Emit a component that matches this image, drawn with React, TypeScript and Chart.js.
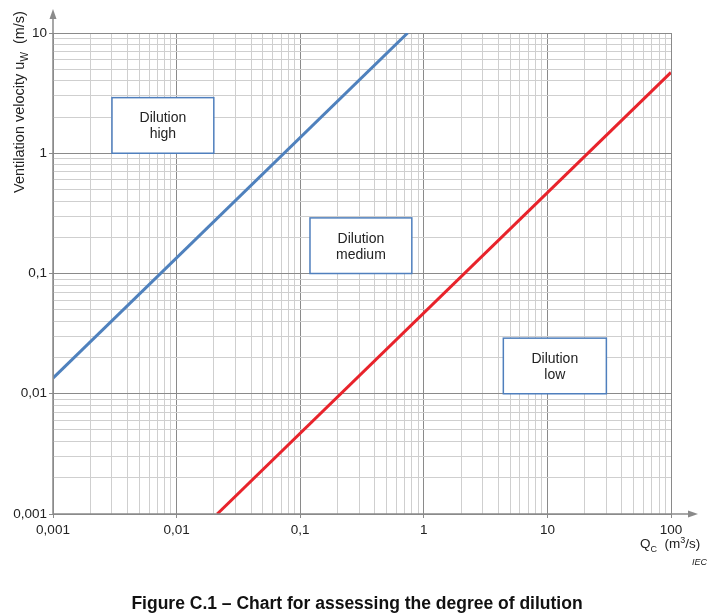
import React, { useEffect, useRef } from 'react';
import { Chart, registerables } from 'chart.js';
Chart.register(...registerables);

// Axis ticks (decades) and their labels
const xTickValues = [0.001, 0.01, 0.1, 1, 10, 100];
const xTickLabels = ['0,001', '0,01', '0,1', '1', '10', '100'];
const yTickValues = [0.001, 0.01, 0.1, 1, 10];
const yTickLabels = ['0,001', '0,01', '0,1', '1', '10'];

// Boundary lines (Qc in m3/s, uw in m/s)
const highBoundaryQ = [0.001, 0.74];
const highBoundaryU = [0.0135, 10];
const lowBoundaryQ = [0.0213, 100];
const lowBoundaryU = [0.001, 4.7];

// Zone labels and their boxes in data coordinates
const zoneLine1 = ['Dilution', 'Dilution', 'Dilution'];
const zoneLine2 = ['high', 'medium', 'low'];
const zoneQMin = [0.003, 0.12, 4.4];
const zoneQMax = [0.02, 0.8, 30];
const zoneUMin = [1, 0.1, 0.01];
const zoneUMax = [2.9, 0.29, 0.029];

const FONT = "'Liberation Sans', Arial, Helvetica, sans-serif";

const isMajor = (v: number) => Math.abs(Math.log10(v) - Math.round(Math.log10(v))) < 1e-6;

function logTicks(min: number, max: number) {
  const out: { value: number }[] = [];
  const lo = Math.round(Math.log10(min));
  const hi = Math.round(Math.log10(max));
  for (let e = lo; e <= hi; e++) {
    for (let m = 1; m <= 9; m++) {
      const v = parseFloat((m * Math.pow(10, e)).toPrecision(6));
      if (v > max * 1.0000001) break;
      out.push({ value: v });
    }
  }
  return out;
}

function labelFor(values: number[], labels: string[], v: number) {
  for (let i = 0; i < values.length; i++) {
    if (Math.abs(values[i] - v) / values[i] < 1e-6) return labels[i];
  }
  return '';
}

const overlayPlugin = {
  id: 'overlay',
  afterDatasetsDraw(chart: any) {
    const { ctx, scales } = chart;
    const xs = scales.x;
    const ys = scales.y;
    ctx.save();
    for (let i = 0; i < zoneLine1.length; i++) {
      const x1 = xs.getPixelForValue(zoneQMin[i]);
      const x2 = xs.getPixelForValue(zoneQMax[i]);
      const y1 = ys.getPixelForValue(zoneUMax[i]);
      const y2 = ys.getPixelForValue(zoneUMin[i]);
      ctx.fillStyle = '#ffffff';
      ctx.fillRect(x1, y1, x2 - x1, y2 - y1);
      ctx.strokeStyle = '#4f7fbd';
      ctx.lineWidth = 1.5;
      ctx.strokeRect(x1, y1, x2 - x1, y2 - y1);
      const cx = (x1 + x2) / 2;
      const cy = (y1 + y2) / 2;
      ctx.fillStyle = '#222222';
      ctx.font = `14px ${FONT}`;
      ctx.textAlign = 'center';
      ctx.textBaseline = 'middle';
      ctx.fillText(zoneLine1[i], cx, cy - 7);
      ctx.fillText(zoneLine2[i], cx, cy + 9);
    }
    ctx.restore();
  },
  afterDraw(chart: any) {
    const { ctx, chartArea } = chart;
    const { left, right, top, bottom } = chartArea;
    ctx.save();
    // axis arrows
    ctx.strokeStyle = '#8a8a8a';
    ctx.fillStyle = '#8a8a8a';
    ctx.lineWidth = 1.5;
    ctx.beginPath();
    ctx.moveTo(left, bottom);
    ctx.lineTo(left, top - 18);
    ctx.moveTo(left, bottom);
    ctx.lineTo(right + 20, bottom);
    ctx.stroke();
    ctx.beginPath();
    ctx.moveTo(left, top - 24);
    ctx.lineTo(left - 3.5, top - 14);
    ctx.lineTo(left + 3.5, top - 14);
    ctx.closePath();
    ctx.fill();
    ctx.beginPath();
    ctx.moveTo(right + 27, bottom);
    ctx.lineTo(right + 17, bottom - 3.5);
    ctx.lineTo(right + 17, bottom + 3.5);
    ctx.closePath();
    ctx.fill();

    // y title
    ctx.fillStyle = '#222222';
    ctx.textBaseline = 'alphabetic';
    ctx.textAlign = 'left';
    ctx.translate(23.5, 102);
    ctx.rotate(-Math.PI / 2);
    const p1 = 'Ventilation velocity u';
    const p2 = 'W';
    const p3 = '  (m/s)';
    ctx.font = `14.5px ${FONT}`;
    const w1 = ctx.measureText(p1).width;
    const w3 = ctx.measureText(p3).width;
    ctx.font = `10px ${FONT}`;
    const w2 = ctx.measureText(p2).width;
    let sx = -(w1 + w2 + w3) / 2;
    ctx.font = `14.5px ${FONT}`;
    ctx.fillText(p1, sx, 0);
    sx += w1;
    ctx.font = `10px ${FONT}`;
    ctx.fillText(p2, sx, 4);
    sx += w2;
    ctx.font = `14.5px ${FONT}`;
    ctx.fillText(p3, sx, 0);
    ctx.restore();

    ctx.save();
    // x title
    ctx.fillStyle = '#222222';
    ctx.textBaseline = 'alphabetic';
    ctx.textAlign = 'left';
    let xx = 640;
    const by = 548;
    ctx.font = `13.5px ${FONT}`;
    ctx.fillText('Q', xx, by);
    xx += ctx.measureText('Q').width;
    ctx.font = `9px ${FONT}`;
    ctx.fillText('C', xx, by + 3.5);
    xx += ctx.measureText('C').width;
    ctx.font = `13.5px ${FONT}`;
    ctx.fillText('  (m', xx, by);
    xx += ctx.measureText('  (m').width;
    ctx.font = `9px ${FONT}`;
    ctx.fillText('3', xx, by - 5);
    xx += ctx.measureText('3').width;
    ctx.font = `13.5px ${FONT}`;
    ctx.fillText('/s)', xx, by);

    // IEC mark
    ctx.font = `italic 9px ${FONT}`;
    ctx.textAlign = 'right';
    ctx.fillText('IEC', 707, 565);

    // caption
    ctx.font = `bold 17.5px ${FONT}`;
    ctx.textAlign = 'center';
    ctx.fillStyle = '#111111';
    ctx.fillText('Figure C.1 \u2013 Chart for assessing the degree of dilution', 357, 609);
    ctx.restore();
  },
};

export default function App() {
  const ref = useRef<HTMLCanvasElement>(null);
  useEffect(() => {
    if (!ref.current) return;
    const gridColor = (c: any) => (c.tick && isMajor(c.tick.value) ? '#8a8a8a' : '#cfcfcf');
    const tickColor = (c: any) => (c.tick && isMajor(c.tick.value) ? '#8a8a8a' : 'rgba(0,0,0,0)');
    const chart = new Chart(ref.current, {
      type: 'line',
      data: {
        datasets: [
          {
            label: 'high/medium',
            data: highBoundaryQ.map((q, i) => ({ x: q, y: highBoundaryU[i] })),
            borderColor: '#4f81bd',
            borderWidth: 3,
            pointRadius: 0,
            fill: false,
          },
          {
            label: 'medium/low',
            data: lowBoundaryQ.map((q, i) => ({ x: q, y: lowBoundaryU[i] })),
            borderColor: '#e8232b',
            borderWidth: 3,
            pointRadius: 0,
            fill: false,
          },
        ],
      },
      options: {
        responsive: false,
        animation: false,
        layout: { padding: { left: 0, top: 33, right: 47, bottom: 0 } },
        plugins: { legend: { display: false }, tooltip: { enabled: false }, title: { display: false } },
        scales: {
          x: {
            type: 'logarithmic',
            min: 0.001,
            max: 100,
            afterBuildTicks: (s: any) => {
              s.ticks = logTicks(0.001, 100);
            },
            afterFit: (s: any) => {
              s.height = 102;
            },
            ticks: {
              autoSkip: false,
              maxRotation: 0,
              padding: 4,
              color: '#222222',
              font: { family: FONT, size: 13.5 },
              callback: (v: any) => labelFor(xTickValues, xTickLabels, Number(v)),
            },
            grid: { color: gridColor, tickColor, tickLength: 4, lineWidth: 1 },
            border: { display: false },
          },
          y: {
            type: 'logarithmic',
            min: 0.001,
            max: 10,
            afterBuildTicks: (s: any) => {
              s.ticks = logTicks(0.001, 10);
            },
            afterFit: (s: any) => {
              s.width = 53;
            },
            ticks: {
              autoSkip: false,
              padding: 2,
              color: '#222222',
              font: { family: FONT, size: 13.5 },
              callback: (v: any) => labelFor(yTickValues, yTickLabels, Number(v)),
            },
            grid: { color: gridColor, tickColor, tickLength: 4, lineWidth: 1 },
            border: { display: false },
          },
        },
      },
      plugins: [overlayPlugin],
    } as any);
    return () => chart.destroy();
  }, []);
  return (
    <div style={{ position: 'absolute', left: 0, top: 0, width: 718, height: 616, background: '#fff' }}>
      <canvas ref={ref} width={718} height={616} style={{ display: 'block' }} />
    </div>
  );
}
